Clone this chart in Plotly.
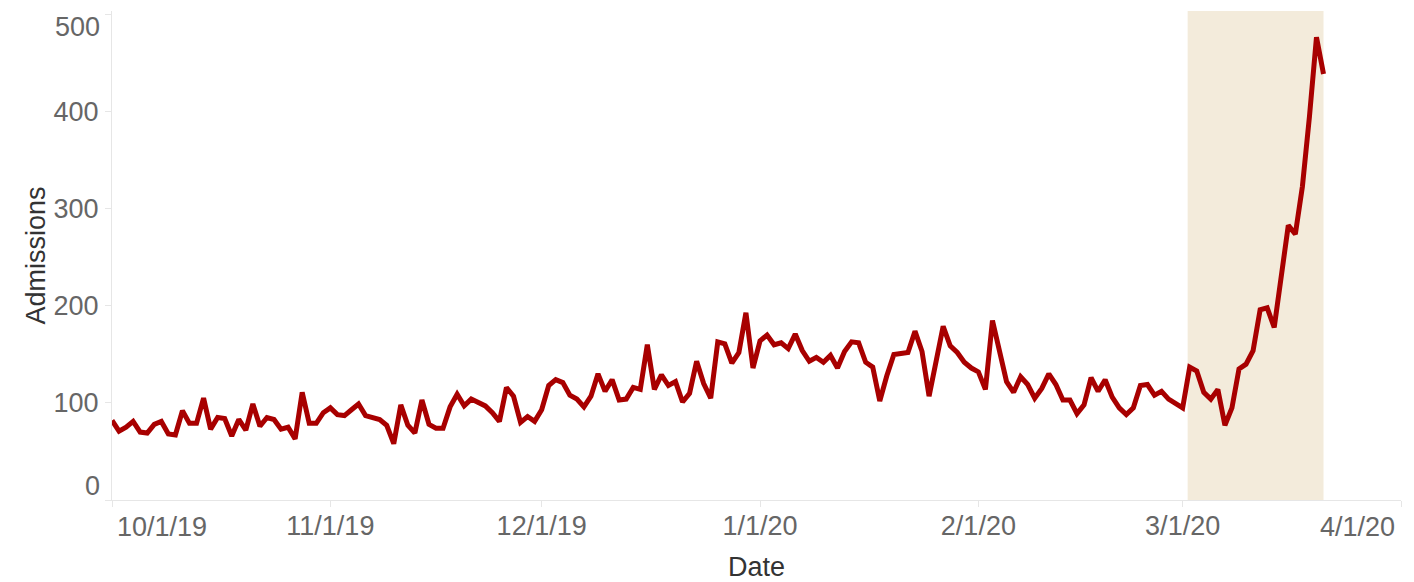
import pandas as pd
import plotly.graph_objects as go

# ---- data ----
start_date = "2019-10-01"
admissions = [
    82, 71, 75, 81, 70, 69, 78, 81, 68, 67,
    92, 79, 79, 105, 73, 85, 84, 66, 83, 72,
    99, 76, 85, 83, 73, 75, 63, 111, 79, 79,
    90, 95, 88, 87, 93, 99, 87, 85, 83, 77,
    58, 98, 77, 69, 103, 78, 74, 74, 96, 109,
    97, 104, 101, 97, 90, 81, 116, 107, 80, 86,
    81, 93, 118, 124, 121, 108, 104, 96, 107, 130,
    112, 124, 103, 104, 116, 114, 160, 114, 129, 118,
    122, 101, 110, 143, 120, 105, 163, 161, 141, 152,
    193, 136, 164, 170, 160, 162, 156, 171, 154, 143,
    147, 142, 149, 136, 153, 163, 162, 142, 137, 102,
    128, 150, 151, 152, 174, 153, 107, 144, 179, 159,
    152, 142, 136, 132, 114, 185, 153, 122, 111, 127,
    119, 105, 115, 130, 119, 103, 103, 89, 98, 126,
    112, 124, 106, 95, 88, 95, 118, 119, 108, 112,
    104, 99, 95, 137, 133, 111, 104, 114, 77, 95,
    135, 140, 154, 196, 198, 178, 230, 283, 274, 323,
    395, 477, 439,
]
dates = pd.date_range(start_date, periods=len(admissions), freq="D")

x_tick_vals = ["2019-10-01", "2019-11-01", "2019-12-01", "2020-01-01",
               "2020-02-01", "2020-03-01", "2020-04-01"]
x_tick_text = ["10/1/19", "11/1/19", "12/1/19", "1/1/20", "2/1/20", "3/1/20", "4/1/20"]
y_tick_vals = [0, 100, 200, 300, 400, 500]
y_tick_text = ["0", "100", "200", "300", "400", "500"]

shade_start = "2020-03-01 17:00"
shade_end = "2020-03-21"
x_range = ["2019-10-01", "2020-04-01"]
y_range = [0, 504]

FONT = "Liberation Sans, Arial, sans-serif"
TICK_COLOR = "#666666"
TITLE_COLOR = "#333333"
AXIS_COLOR = "#e6e6e6"
FS = 27

fig = go.Figure()
fig.add_vrect(x0=shade_start, x1=shade_end, fillcolor="#f3ebdb", opacity=1,
              line_width=0, layer="below")
fig.add_trace(go.Scatter(x=dates, y=admissions, mode="lines",
                         line=dict(color="#a80000", width=5),
                         hoverinfo="x+y", showlegend=False))

# flush (inner-aligned) labels at ends, inner labels as normal ticks
x_text_inner = [t if 0 < i < len(x_tick_text) - 1 else "" for i, t in enumerate(x_tick_text)]
y_text_inner = [t if 0 < i < len(y_tick_text) - 1 else "" for i, t in enumerate(y_tick_text)]

fig.update_xaxes(range=x_range, tickvals=x_tick_vals, ticktext=x_text_inner,
                 showgrid=False, zeroline=False, showline=True, linecolor=AXIS_COLOR,
                 linewidth=1, ticks="outside", ticklen=6, tickcolor=AXIS_COLOR,
                 automargin=False, ticklabelstandoff=-4,
                 tickfont=dict(family=FONT, size=FS, color=TICK_COLOR),
                 title=dict(text="Date", font=dict(family=FONT, size=FS, color=TITLE_COLOR),
                            standoff=16))
fig.update_yaxes(range=y_range, tickvals=y_tick_vals, ticktext=y_text_inner,
                 showgrid=False, zeroline=False, showline=True, linecolor=AXIS_COLOR,
                 linewidth=1, ticks="outside", ticklen=6, tickcolor=AXIS_COLOR,
                 ticklabelstandoff=1, automargin=False,
                 tickfont=dict(family=FONT, size=FS, color=TICK_COLOR),
                 title=dict(text="Admissions", font=dict(family=FONT, size=FS, color=TITLE_COLOR),
                            standoff=0))

ann_font = dict(family=FONT, size=FS, color=TICK_COLOR)
fig.add_annotation(x=x_tick_vals[0], y=0, xref="x", yref="paper", text=x_tick_text[0],
                   showarrow=False, xanchor="left", yanchor="top", xshift=3, yshift=-10,
                   font=ann_font)
fig.add_annotation(x=x_tick_vals[-1], y=0, xref="x", yref="paper", text=x_tick_text[-1],
                   showarrow=False, xanchor="right", yanchor="top", xshift=-4, yshift=-10,
                   font=ann_font)
fig.add_annotation(x=0, y=y_tick_vals[0], xref="paper", yref="y", text=y_tick_text[0],
                   showarrow=False, xanchor="right", yanchor="bottom", xshift=-10, yshift=-3,
                   font=ann_font)
fig.add_annotation(x=0, y=y_tick_vals[-1], xref="paper", yref="y", text=y_tick_text[-1],
                   showarrow=False, xanchor="right", yanchor="top", xshift=-10, yshift=5,
                   font=ann_font)

# page body has an 8px default margin, so the figure is sized to fit the window
fig.update_layout(width=1406, height=574, autosize=False,
                  margin=dict(l=104, r=13, t=3, b=82),
                  paper_bgcolor="white", plot_bgcolor="white",
                  font=dict(family=FONT))

fig.write_html("out.html")
